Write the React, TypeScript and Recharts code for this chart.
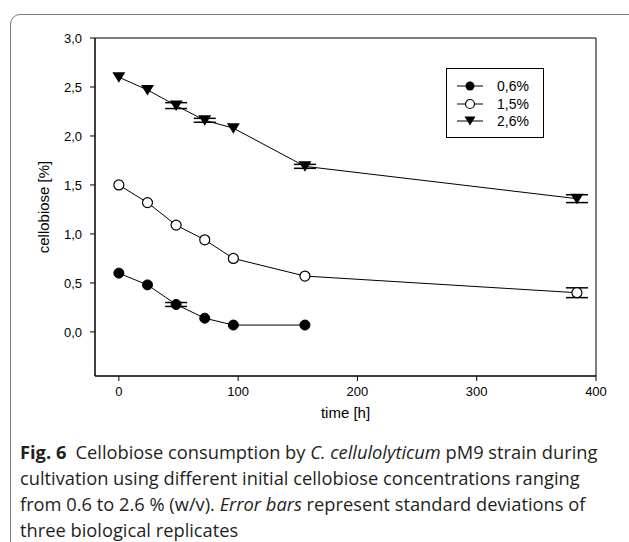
import React from "react";
import {
  LineChart,
  Line,
  XAxis,
  YAxis,
  ErrorBar,
  ReferenceArea,
} from "recharts";

// sampling times (h)
const timesLow = [0, 24, 48, 72, 96, 156];
const timesFull = [0, 24, 48, 72, 96, 156, 384];

// cellobiose [%] per initial concentration (null = SD too small to show)
const conc06 = [0.6, 0.48, 0.28, 0.14, 0.07, 0.07];
const err06 = [null, null, 0.02, null, null, null];
const conc15 = [1.5, 1.32, 1.09, 0.94, 0.75, 0.57, 0.4];
const err15 = [null, null, null, null, null, null, 0.05];
const conc26 = [2.6, 2.47, 2.31, 2.16, 2.08, 1.69, 1.36];
const err26 = [null, null, 0.03, 0.02, null, 0.02, 0.04];

const xTicks = [0, 100, 200, 300, 400];
const yTicks = [0, 0.5, 1, 1.5, 2, 2.5, 3];
const seriesNames = ["0,6%", "1,5%", "2,6%"];

const toRows = (t: number[], v: number[], e: (number | null)[]) =>
  t.map((time, i) => ({ time, value: v[i], err: e[i] }));

const rows06 = toRows(timesLow, conc06, err06);
const rows15 = toRows(timesFull, conc15, err15);
const rows26 = toRows(timesFull, conc26, err26);

const comma = (v: number) => v.toFixed(1).replace(".", ",");

const FilledDot = (p: any) => (
  <circle key={`f-${p.index}`} cx={p.cx} cy={p.cy} r={5} fill="#000" stroke="#000" />
);
const OpenDot = (p: any) => (
  <circle key={`o-${p.index}`} cx={p.cx} cy={p.cy} r={5} fill="#fff" stroke="#000" strokeWidth={1.2} />
);
const TriDot = (p: any) => (
  <path
    key={`t-${p.index}`}
    d={`M${p.cx - 6.5},${p.cy - 5} L${p.cx + 6.5},${p.cy - 5} L${p.cx},${p.cy + 5.5} Z`}
    fill="#000"
  />
);

function LegendBox() {
  const marks = [
    <circle cx={13} cy={6} r={4.5} fill="#000" />,
    <circle cx={13} cy={6} r={4.5} fill="#fff" stroke="#000" strokeWidth={1.2} />,
    <path d="M7.5,1.5 L18.5,1.5 L13,10.5 Z" fill="#000" />,
  ];
  const rowTops = [10, 28, 45];
  return (
    <div
      style={{
        position: "absolute",
        left: 446,
        top: 68,
        width: 96,
        height: 68,
        border: "1px solid #000",
        background: "#fff",
        fontFamily: "'Liberation Sans', Arial, sans-serif",
        fontSize: 14,
        color: "#000",
      }}
    >
      {seriesNames.map((name, i) => (
        <div key={name} style={{ position: "absolute", left: 10, top: rowTops[i], height: 14, display: "flex", alignItems: "center" }}>
          <svg width={26} height={12} style={{ display: "block" }}>
            <line x1={0} y1={6} x2={26} y2={6} stroke="#000" strokeWidth={1} />
            {marks[i]}
          </svg>
          <span style={{ marginLeft: 14, lineHeight: "14px" }}>{name}</span>
        </div>
      ))}
    </div>
  );
}

const captionLine: React.CSSProperties = {
  position: "absolute",
  left: 20,
  whiteSpace: "nowrap",
  fontFamily: "'Open Sans', sans-serif",
  fontSize: 18.3,
  lineHeight: "26px",
  color: "#231f20",
};

export default function App() {
  return (
    <div
      style={{
        position: "absolute",
        left: 0,
        top: 0,
        width: 629,
        height: 542,
        overflow: "hidden",
        background: "#fff",
      }}
    >
      <div
        style={{
          position: "absolute",
          left: 10,
          top: 14,
          width: 640,
          height: 560,
          border: "1.5px solid #7a7a7a",
          borderRadius: 10,
        }}
      />
      <div style={{ position: "absolute", left: 0, top: 0 }}>
        <LineChart
          width={629}
          height={440}
          margin={{ top: 38, right: 33, bottom: 22, left: 0 }}
          style={{ fontFamily: "'Liberation Sans', Arial, sans-serif" }}
        >
          <XAxis
            type="number"
            dataKey="time"
            domain={[-20, 400]}
            ticks={xTicks}
            allowDataOverflow
            height={42}
            tickSize={5}
            tickMargin={6}
            stroke="#000"
            tick={{ fill: "#000", fontSize: 13 }}
            label={{
              value: "time [h]",
              position: "insideBottom",
              offset: 0,
              fontSize: 15,
              fill: "#000",
            }}
          />
          <YAxis
            type="number"
            domain={[-0.45, 3]}
            ticks={yTicks}
            allowDataOverflow
            width={95}
            tickSize={5}
            tickMargin={8}
            stroke="#000"
            tickFormatter={comma}
            tick={{ fill: "#000", fontSize: 13 }}
            label={{
              value: "cellobiose [%]",
              angle: -90,
              position: "center",
              dx: -4,
              fontSize: 15,
              fill: "#000",
            }}
          />
          <ReferenceArea x1={-20} x2={400} y1={-0.45} y2={3} fill="none" stroke="#000" strokeOpacity={1} />
          <Line
            data={rows06}
            dataKey="value"
            name={seriesNames[0]}
            stroke="#000"
            strokeWidth={1}
            dot={FilledDot}
            isAnimationActive={false}
          >
            <ErrorBar dataKey="err" direction="y" width={11} stroke="#000" />
          </Line>
          <Line
            data={rows15}
            dataKey="value"
            name={seriesNames[1]}
            stroke="#000"
            strokeWidth={1}
            dot={OpenDot}
            isAnimationActive={false}
          >
            <ErrorBar dataKey="err" direction="y" width={11} stroke="#000" />
          </Line>
          <Line
            data={rows26}
            dataKey="value"
            name={seriesNames[2]}
            stroke="#000"
            strokeWidth={1}
            dot={TriDot}
            isAnimationActive={false}
          >
            <ErrorBar dataKey="err" direction="y" width={11} stroke="#000" />
          </Line>
        </LineChart>
      </div>
      <LegendBox />
      <div style={{ ...captionLine, top: 439 }}>
        <b style={{ fontWeight: 700 }}>Fig. 6</b>
        {"\u2002Cellobiose consumption by "}
        <i>C. cellulolyticum</i>
        {" pM9 strain during"}
      </div>
      <div style={{ ...captionLine, top: 465 }}>
        cultivation using different initial cellobiose concentrations ranging
      </div>
      <div style={{ ...captionLine, top: 491 }}>
        {"from 0.6 to 2.6 % (w/v). "}
        <i>Error bars</i>
        {" represent standard deviations of"}
      </div>
      <div style={{ ...captionLine, top: 517 }}>three biological replicates</div>
    </div>
  );
}
